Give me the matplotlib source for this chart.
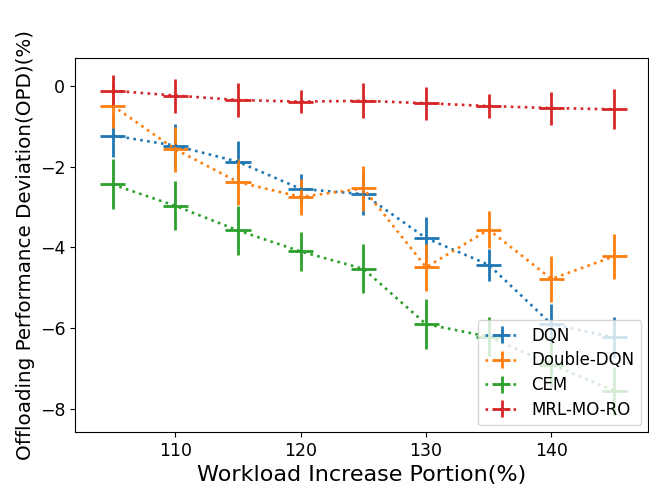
import matplotlib
matplotlib.use("Agg")
import matplotlib.pyplot as plt

x = [105, 110, 115, 120, 125, 130, 135, 140, 145]

dqn = [-1.23, -1.48, -1.88, -2.55, -2.68, -3.77, -4.43, -5.90, -6.23]
dqn_err = [0.52, 0.53, 0.51, 0.38, 0.52, 0.52, 0.39, 0.50, 0.50]

ddqn = [-0.49, -1.57, -2.38, -2.75, -2.54, -4.49, -3.56, -4.78, -4.22]
ddqn_err = [0.55, 0.56, 0.58, 0.45, 0.55, 0.58, 0.45, 0.58, 0.56]

cem = [-2.44, -2.97, -3.58, -4.10, -4.53, -5.90, -6.21, -6.90, -7.55]
cem_err = [0.62, 0.61, 0.61, 0.49, 0.61, 0.62, 0.48, 0.55, 0.60]

mrl = [-0.12, -0.24, -0.35, -0.39, -0.37, -0.43, -0.50, -0.55, -0.58]
mrl_err = [0.40, 0.42, 0.42, 0.29, 0.43, 0.41, 0.30, 0.41, 0.50]

x_err = 1

labels = ["DQN", "Double-DQN", "CEM", "MRL-MO-RO"]
colors = ["#1f77b4", "#ff7f0e", "#2ca02c", "#d62728"]

fig = plt.figure(figsize=(6.49, 4.93), dpi=100)
ax = fig.add_axes([75/649, (493-432)/493, (648-75)/649, (432-58)/493])

for y, e, lab, c in zip([dqn, ddqn, cem, mrl], [dqn_err, ddqn_err, cem_err, mrl_err], labels, colors):
    ax.errorbar(x, y, xerr=x_err, yerr=e, linestyle=':', color=c, label=lab,
                elinewidth=2, linewidth=1.9)

ax.set_xticks([110, 120, 130, 140])
ax.set_yticks([0, -2, -4, -6, -8])
ax.set_yticklabels(["0", "\u22122", "\u22124", "\u22126", "\u22128"])
ax.tick_params(labelsize=12.5, direction='out')
ax.set_xlabel("Workload Increase Portion(%)", fontsize=16)
ax.set_ylabel("Offloading Performance Deviation(OPD)(%)", fontsize=14.3, labelpad=3)
ax.set_ylim(-8.57, 0.69)
ax.set_xlim(102.0, 147.7)
ax.legend(loc="lower right", fontsize=12, labelspacing=0.4, borderaxespad=0.4)

fig.savefig("out.png", dpi=100)
